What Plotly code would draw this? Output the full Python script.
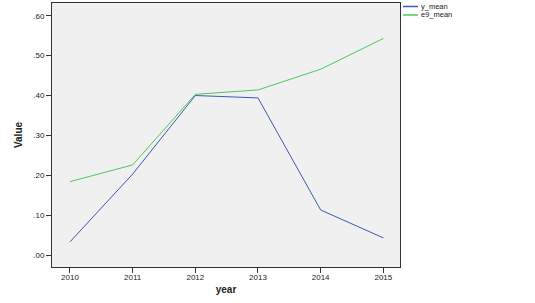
import plotly.graph_objects as go

years = [2010, 2011, 2012, 2013, 2014, 2015]
y_mean = [0.033, 0.203, 0.400, 0.394, 0.113, 0.043]
e9_mean = [0.184, 0.226, 0.403, 0.414, 0.466, 0.543]
series_names = ["y_mean", "e9_mean"]
series_colors = ["#3e58b0", "#4cc85c"]
y_tickvals = [0.0, 0.1, 0.2, 0.3, 0.4, 0.5, 0.6]
y_ticktext = [".00", ".10", ".20", ".30", ".40", ".50", ".60"]
x_ticktext = ["2010", "2011", "2012", "2013", "2014", "2015"]

W, H = 535, 303
ML, MR, MT, MB = 52, 135, 3, 36

fig = go.Figure()
for name, vals, col in zip(series_names, [y_mean, e9_mean], series_colors):
    fig.add_trace(go.Scatter(x=years, y=vals, mode="lines", name=name,
                             line=dict(color=col, width=1), showlegend=False))

axis_common = dict(showline=True, linecolor="#333333", linewidth=1, mirror=True,
                   showgrid=False, zeroline=False, ticks="outside", ticklen=5,
                   tickcolor="#333333", tickfont=dict(family="Arial", size=8, color="#222222"))

# manual legend (outside plot, top right), positions in paper coordinates
pw = W - ML - MR
ph = H - MT - MB
def px_to_paper_x(px):
    return (px - ML) / pw
def px_to_paper_y(py):
    return 1 - (py - MT) / ph

shapes = []
annotations = []
for i, (name, col) in enumerate(zip(series_names, series_colors)):
    yy = 6.5 + i * 8.5
    shapes.append(dict(type="line", xref="paper", yref="paper",
                       x0=px_to_paper_x(403), x1=px_to_paper_x(418),
                       y0=px_to_paper_y(yy), y1=px_to_paper_y(yy),
                       line=dict(color=col, width=1.5)))
    annotations.append(dict(xref="paper", yref="paper", x=px_to_paper_x(420),
                            y=px_to_paper_y(yy), text=name, showarrow=False,
                            xanchor="left", yanchor="middle", borderpad=0,
                            font=dict(family="Arial", size=7.5, color="#222222")))

fig.update_layout(
    width=W, height=H,
    margin=dict(l=ML, r=MR, t=MT, b=MB),
    paper_bgcolor="white", plot_bgcolor="#f0f0f0",
    font=dict(family="Arial", color="#222222"),
    xaxis=dict(range=[2009.713, 2015.266], tickvals=years, ticktext=x_ticktext,
               ticklabelstandoff=-3,
               title=dict(text="<b>year</b>", font=dict(size=10), standoff=5),
               **axis_common),
    yaxis=dict(range=[-0.030, 0.632], tickvals=y_tickvals, ticktext=y_ticktext,
               title=dict(text="<b>Value</b>", font=dict(size=10), standoff=8),
               **axis_common),
    shapes=shapes,
    annotations=annotations,
    showlegend=False,
)

fig.write_html("out.html")
